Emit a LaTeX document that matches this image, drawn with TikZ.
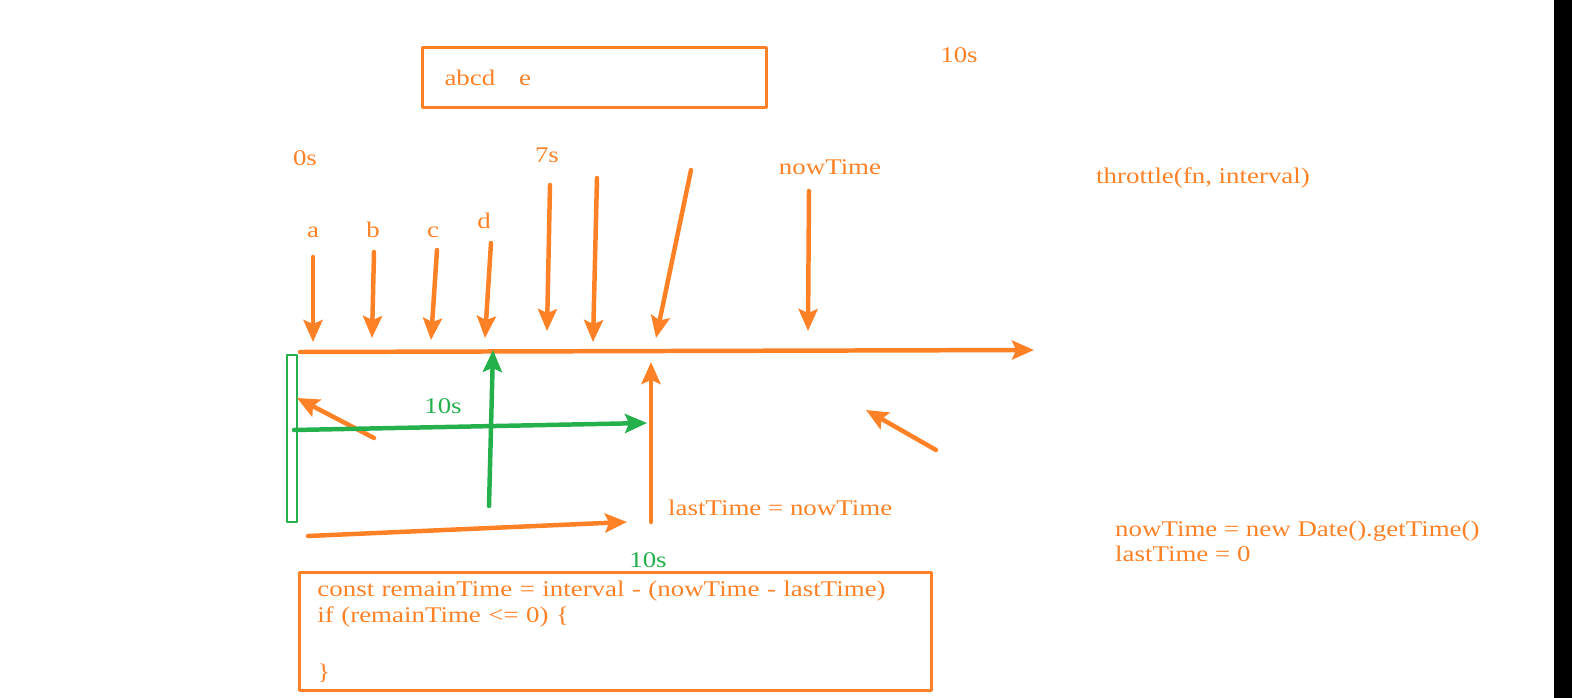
\documentclass[tikz,border=0pt]{standalone}
\usepackage{fontspec}
\setmainfont{Liberation Serif}[FakeStretch=1.2]
\usetikzlibrary{arrows.meta}
\definecolor{cam}{RGB}{255,129,38}
\definecolor{xanh}{RGB}{36,176,75}
\begin{document}
\begin{tikzpicture}[x=1bp,y=-1bp,>={Stealth[length=22pt,width=19pt,inset=4pt]}, line join=round, line cap=round,
	font=\fontsize{22.5}{27}\selectfont,
	mui/.style={->,draw=cam,line width=4.5pt},
	muix/.style={->,draw=xanh,line width=4.5pt},
	chu/.style={text=cam,inner sep=0pt,anchor=base},
	khung/.style={draw=cam,line width=3pt,text=cam,align=left}]
	\useasboundingbox (0,0) rectangle (1572,698);
	\fill[black] (1554,-10) rectangle (1600,710);
	% Khung tren va duoi
	\node[khung,anchor=north west,text width=300bp,inner xsep=22bp,minimum height=60bp] (hop) at (421,46) {abcd\hspace{24pt}e};
	\node[khung,anchor=north west,text width=596bp,inner xsep=18bp,inner ysep=8pt] (ma) at (298,571)
		{const remainTime = interval - (nowTime - lastTime)\\ if (remainTime <= 0) \{\\[30pt]\}};
	% Nhan
	\node[chu] (t10) at (959,63) {10s};
	\node[chu] (t0) at (305,165) {0s};
	\node[chu] (t7) at (547,162) {7s};
	\node[chu] (now) at (830,174) {nowTime};
	\node[chu,anchor=base west] (thr) at (1096,183) {throttle(fn, interval)};
	\node[chu] (la) at (313,237) {a};
	\node[chu] (lb) at (373,237) {b};
	\node[chu] (lc) at (433,237) {c};
	\node[chu] (ld) at (484,228) {d};
	\node[chu,anchor=base west] (last) at (668,515) {lastTime = nowTime};
	\node[chu,text=xanh] (g1) at (443,413) {10s};
	\node[chu,text=xanh] (g2) at (648,567) {10s};
	\node[chu,anchor=base west,align=left] (ghichu) at (1115,561) {nowTime = new Date().getTime()\\[-2pt]lastTime = 0};
	% Diem dau, diem cuoi
	\coordinate (a1) at (313,257); \coordinate (a2) at (313,342);
	\coordinate (b1) at (374,252); \coordinate (b2) at (372,338);
	\coordinate (c1) at (437,250); \coordinate (c2) at (431,340);
	\coordinate (d1) at (491,243); \coordinate (d2) at (485,338);
	\coordinate (e1) at (550,185); \coordinate (e2) at (547,331);
	\coordinate (f1) at (597,178); \coordinate (f2) at (593,342);
	\coordinate (h1) at (691,170); \coordinate (h2) at (656,338);
	\coordinate (n1) at (809,191); \coordinate (n2) at (808,331);
	\coordinate (O) at (300,352); \coordinate (X) at (1034,350);
	\coordinate (p1) at (374,438); \coordinate (p2) at (297,398);
	\coordinate (q1) at (294,430); \coordinate (q2) at (647,423);
	\coordinate (r1) at (489,506); \coordinate (r2) at (493,350);
	\coordinate (s1) at (651,522); \coordinate (s2) at (651,362);
	\coordinate (u1) at (308,536); \coordinate (u2) at (627,522);
	\coordinate (v1) at (936,450); \coordinate (v2) at (866,410);
	% Truc thoi gian
	\draw[mui] (O)--(X);
	\draw[mui] (a1)--(a2);
	\draw[mui] (b1)--(b2);
	\draw[mui] (c1)--(c2);
	\draw[mui] (d1)--(d2);
	\draw[mui] (e1)--(e2);
	\draw[mui] (f1)--(f2);
	\draw[mui] (h1)--(h2);
	\draw[mui] (n1)--(n2);
	\draw[draw=xanh,line width=2pt,line cap=butt] (287,355) rectangle (297,522);
	\draw[mui] (p1)--(p2);
	\draw[muix] (q1)--(q2);
	\draw[muix] (r1)--(r2);
	\draw[mui] (s1)--(s2);
	\draw[mui] (u1)--(u2);
	\draw[mui] (v1)--(v2);
\end{tikzpicture}
\end{document}
